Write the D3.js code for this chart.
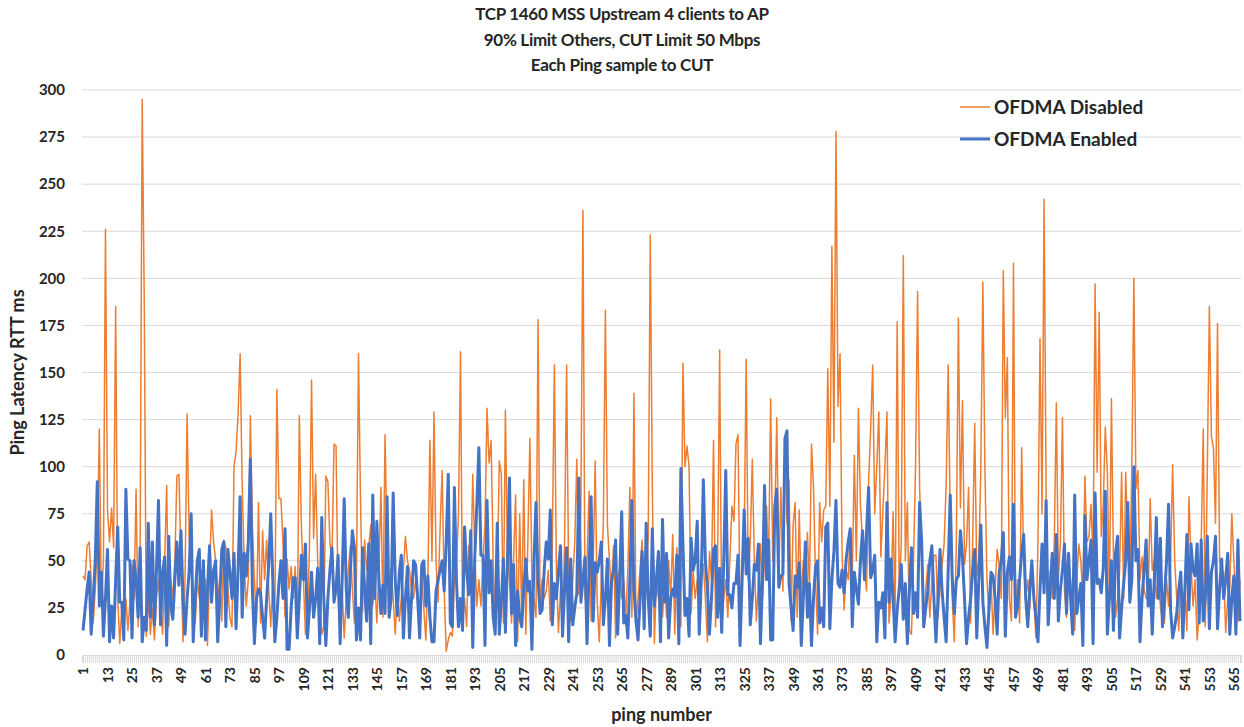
<!DOCTYPE html>
<html>
<head>
<meta charset="utf-8">
<script src="https://cdn.jsdelivr.net/npm/d3@7"></script>
<style>
  body { margin: 0; background: #fff; }
  svg text { font-family: Lato, "Open Sans", sans-serif; font-weight: bold; fill: #262626; }
</style>
</head>
<body>
<svg id="chart" width="1244" height="727"></svg>
<script>
// ping latency (ms) per sample
const ofdmaDisabled = [
  42,40,58,60,40,17,35,60,120,26, 50,226,77,60,78,57,185,30,6,25,
  11,30,13,28,48,30,88,15,59,295, 190,10,30,11,25,8,30,40,26,11,
  50,90,15,40,30,50,95,96,50,7, 40,128,63,46,35,17,40,30,45,25,
  40,5,45,77,60,50,30,40,18,61, 57,35,20,15,100,108,128,160,90,50,
  26,40,127,69,40,17,81,17,66,40, 61,35,15,40,20,141,83,83,60,20,
  51,35,47,30,47,11,127,69,40,11, 11,60,146,62,96,50,30,11,15,95,
  92,60,50,112,111,30,11,35,9,30, 45,58,35,17,40,160,82,23,61,45,
  57,69,26,40,17,45,89,20,117,60, 36,46,30,11,35,18,30,45,63,50,
  45,35,30,40,28,20,40,25,8,40, 114,50,129,50,28,68,98,34,2,8,
  12,10,40,48,75,161,17,30,15,58, 40,96,54,26,40,26,50,70,131,102,
  114,50,17,40,103,96,17,130,54,40, 17,50,85,7,75,18,93,11,60,115,
  40,30,20,178,26,40,30,34,45,18, 60,154,44,12,35,12,60,154,40,18,
  40,60,104,32,80,236,30,50,87,18, 45,103,28,7,40,70,183,69,50,35,
  58,9,40,45,30,40,20,45,89,20, 139,17,30,46,61,15,40,63,223,89,
  6,40,30,45,20,40,20,50,30,64, 11,57,35,15,155,100,111,100,22,45,
  30,40,30,50,48,30,7,55,40,114, 15,50,162,15,30,40,20,50,79,71,
  112,117,20,40,59,157,40,60,104,50, 18,40,59,30,50,79,50,136,50,70,
  126,42,89,34,115,70,93,18,69,81, 20,77,30,50,40,65,36,112,89,40,
  11,81,60,77,79,152,79,217,113,278, 132,160,54,24,45,40,67,40,106,50,
  131,80,61,45,34,92,120,154,75,100, 129,52,77,100,129,17,32,76,19,177,
  34,59,212,50,81,13,11,50,100,193, 89,53,15,35,48,20,40,53,53,20,
  35,48,59,90,154,73,30,7,60,179, 78,135,48,59,89,17,60,123,42,50,
  100,198,99,40,20,40,11,35,56,48, 30,204,126,158,30,18,208,22,40,17,
  110,50,30,40,25,50,30,9,60,168, 75,242,85,17,45,30,60,134,40,60,
  126,34,20,50,30,40,13,40,59,50, 30,95,60,63,80,50,197,97,182,63,
  80,121,97,30,136,50,20,30,45,97, 30,97,60,40,100,200,88,98,40,52,
  35,30,30,83,45,50,30,40,26,18, 17,40,26,50,101,50,30,13,40,30,
  35,13,84,48,26,40,8,22,60,120, 15,100,185,116,110,70,176,50,40,44,
  12,30,36,75,50,30,18,40
];
const ofdmaEnabled = [
  13,24,35,44,11,30,50,92,26,44, 10,30,56,7,26,9,40,68,28,28,
  8,88,51,50,9,50,40,20,57,7, 20,13,70,20,60,16,45,82,16,44,
  52,5,63,26,19,40,60,37,66,30, 11,30,44,75,7,30,50,56,10,50,
  8,35,58,28,45,50,7,30,56,60, 15,56,44,30,54,14,45,84,20,54,
  42,60,104,35,6,30,35,33,20,9, 30,48,75,40,7,20,38,50,30,67,
  3,3,25,41,41,9,30,53,40,59, 9,25,44,20,30,46,6,73,30,5,
  30,45,57,28,35,53,6,40,83,35, 20,44,66,57,8,25,8,57,35,18,
  59,6,85,30,71,40,22,37,22,84, 20,30,86,40,21,44,53,9,30,47,
  9,30,50,48,30,9,48,50,26,42, 20,7,7,34,40,45,50,34,60,96,
  17,15,89,40,15,30,13,68,45,32, 66,4,52,80,110,53,53,5,82,33,
  50,20,11,70,11,28,51,12,50,94, 22,48,5,34,20,15,35,51,34,39,
  3,50,81,40,22,24,45,60,51,77, 16,38,30,45,58,10,35,57,7,51,
  16,25,33,94,28,40,52,6,45,84, 18,49,44,50,60,16,30,51,5,39,
  45,61,11,40,76,17,21,9,40,82, 35,18,8,30,55,14,70,30,10,67,
  26,40,55,7,72,28,54,9,30,35, 31,53,6,99,59,21,30,10,62,45,
  50,71,11,40,93,50,35,11,30,56, 58,20,46,12,50,98,32,32,25,38,
  38,53,5,40,77,43,62,16,30,48, 45,59,6,40,90,40,61,8,8,79,
  88,36,42,43,115,119,38,25,13,42, 36,49,5,30,60,20,38,5,30,47,
  50,17,25,15,68,70,14,40,55,82, 38,36,45,33,51,60,67,15,44,35,
  27,50,66,40,66,89,41,45,53,7, 28,25,33,9,81,28,51,30,7,24,
  35,48,19,38,6,35,57,22,33,20, 81,60,15,25,34,50,58,30,7,30,
  56,34,20,7,45,85,40,22,40,42, 66,52,30,6,20,30,45,56,9,40,
  69,28,15,4,25,44,42,30,11,44, 50,65,10,44,52,40,80,20,26,40,
  54,64,30,15,35,50,30,20,7,35, 59,33,82,16,35,54,30,64,18,35,
  45,59,22,54,30,11,85,22,30,38, 5,74,40,50,61,6,86,38,40,33,
  46,87,11,30,50,13,54,63,9,25, 38,50,81,28,40,100,50,56,7,30,
  45,61,26,40,11,40,73,30,62,15, 30,50,80,24,9,15,22,35,44,9,
  35,64,24,59,45,42,59,17,61,18, 30,63,14,44,50,63,14,35,51,30,
  40,54,11,30,42,11,61,18
];
const pingNumbers = d3.range(1, ofdmaEnabled.length + 1);
const yTicks = d3.range(0, 301, 25);
const titleLines = ["TCP 1460 MSS Upstream 4 clients to AP", "90% Limit Others, CUT Limit 50 Mbps", "Each Ping sample to CUT"];
const seriesNames = ["OFDMA Disabled", "OFDMA Enabled"];
const colors = ["#ED7D31", "#4472C4"];

const svg = d3.select("#chart");
const plotLeft = 82, plotRight = 1241, plotTop = 90, plotBottom = 655;

const x = d3.scalePoint().domain(pingNumbers).range([plotLeft, plotRight]).padding(0.5);
const y = d3.scaleLinear().domain([0, 300]).range([plotBottom, plotTop]);

// horizontal gridlines
svg.append("g").selectAll("line").data(yTicks.filter(d => d > 0)).join("line")
    .attr("x1", plotLeft).attr("x2", plotRight)
    .attr("y1", d => y(d)).attr("y2", d => y(d))
    .attr("stroke", "#d9d9d9").attr("stroke-width", 1);

// y axis labels
svg.append("g").selectAll("text").data(yTicks).join("text")
    .attr("x", 65).attr("y", d => y(d)).attr("dy", "0.35em")
    .attr("text-anchor", "end").style("font-size", "15px")
    .text(d => d);

// x axis, one tick per ping, a label every 12
const xAxis = d3.axisBottom(x)
    .tickSize(8)
    .tickFormat(d => (d - 1) % 12 === 0 ? d : "");
const gx = svg.append("g").attr("transform", `translate(0,${plotBottom})`).call(xAxis);
gx.select(".domain").attr("stroke", "#d9d9d9");
gx.selectAll(".tick line").attr("stroke", "#d9d9d9");
gx.selectAll(".tick text")
    .attr("transform", "rotate(-90)")
    .attr("x", -12).attr("y", 0).attr("dy", "0.35em")
    .attr("text-anchor", "end")
    .style("font-size", "14px").style("font-family", "Lato, sans-serif")
    .style("font-weight", "bold").attr("fill", "#262626");

// series lines
const line = d3.line()
    .x((d, i) => x(pingNumbers[i]))
    .y(d => y(d));

svg.append("path").datum(ofdmaDisabled)
    .attr("d", line).attr("fill", "none")
    .attr("stroke", colors[0]).attr("stroke-width", 1.5)
    .attr("stroke-linejoin", "round");

svg.append("path").datum(ofdmaEnabled)
    .attr("d", line).attr("fill", "none")
    .attr("stroke", colors[1]).attr("stroke-width", 3)
    .attr("stroke-linejoin", "round");

// title
svg.append("g").selectAll("text").data(titleLines).join("text")
    .attr("x", 622).attr("y", (d, i) => 20 + i * 25.5)
    .attr("text-anchor", "middle").style("font-size", "17px")
    .style("letter-spacing", "-0.3px")
    .text(d => d);

// axis titles
svg.append("text")
    .attr("transform", `translate(24,${(plotTop + plotBottom) / 2}) rotate(-90)`)
    .attr("text-anchor", "middle").style("font-size", "18px")
    .text("Ping Latency RTT ms");

svg.append("text")
    .attr("x", (plotLeft + plotRight) / 2).attr("y", 721)
    .attr("text-anchor", "middle").style("font-size", "18px")
    .text("ping number");

// legend
const legend = svg.append("g").selectAll("g").data(seriesNames).join("g")
    .attr("transform", (d, i) => `translate(960,${107 + i * 32})`);
legend.append("line")
    .attr("x1", 0).attr("x2", 30)
    .attr("stroke", (d, i) => colors[i])
    .attr("stroke-width", (d, i) => i === 0 ? 1.5 : 3);
legend.append("text")
    .attr("x", 34).attr("dy", "0.35em")
    .style("font-size", "19px")
    .text(d => d);
</script>
</body>
</html>
